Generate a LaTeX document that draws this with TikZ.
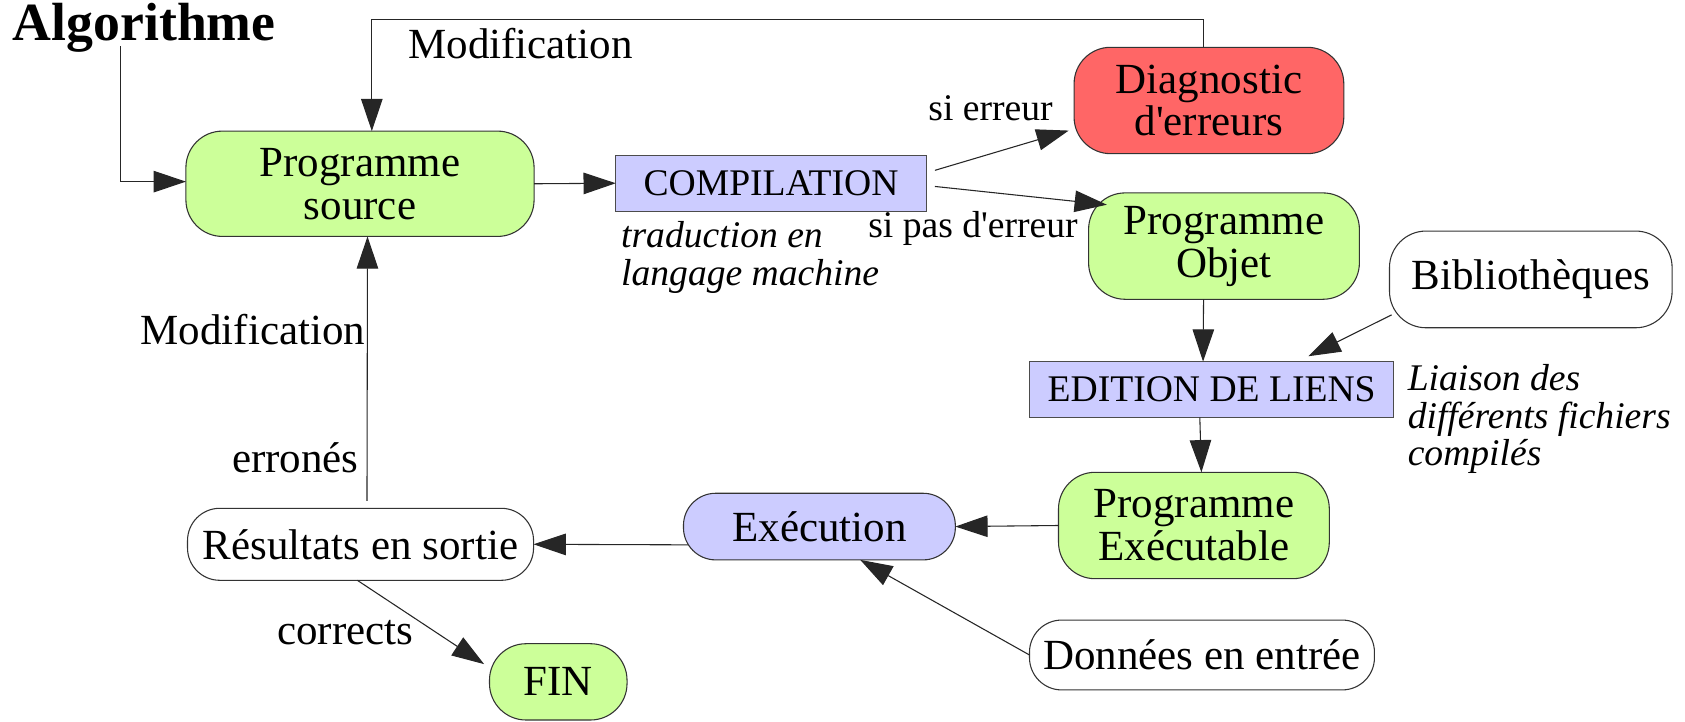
\documentclass[tikz,border=0pt]{standalone}
\usepackage{fontspec}
\setmainfont{Liberation Serif}
\usetikzlibrary{arrows.meta,calc}

\definecolor{lgreen}{HTML}{CCFF99}
\definecolor{lred}{HTML}{FF6666}
\definecolor{lblue}{HTML}{CCCCFF}

\begin{document}
\begin{tikzpicture}[x=0.5pt,y=-0.5pt,
  every node/.style={inner sep=0pt, outer sep=0pt},
  sz/.style 2 args={minimum width=#1*0.5pt, minimum height=#2*0.5pt},
  big/.style={font=\fontsize{20}{20}\selectfont},
  small/.style={font=\fontsize{17.5}{17.5}\selectfont},
  box/.style={draw=black!80, line width=0.5pt, rounded corners=17pt, align=center, big},
  pill/.style={box, rounded corners=15pt},
  rect/.style={draw=black!70, line width=0.5pt, fill=lblue, align=center, small},
  lbl/.style={anchor=base west, big},
  slbl/.style={anchor=base west, small},
  note/.style={anchor=north west, align=left, font=\itshape\fontsize{17.5}{17.5}\selectfont},
  arr/.style={draw=black!85, line width=0.5pt, -{Triangle[length=15pt,width=10pt]}}
]
\useasboundingbox (0,0) rectangle (1568,671);

% boxes of the chain
\node[box, fill=lgreen, sz={324}{98}] (src) at (335,171) {Programme\\source};
\node[rect, sz={289}{52}] (comp) at (717.5,170.5) {COMPILATION};
\node[box, fill=lred, sz={251}{99}] (diag) at (1125,93.5) {Diagnostic\\d\textquotesingle erreurs};
\node[box, fill=lgreen, sz={252}{99}] (obj) at (1139,229) {Programme\\Objet};
\node[box, fill=white, sz={263}{90}] (bib) at (1424.5,260) {Biblioth\`eques};
\node[rect, sz={339}{52}] (edit) at (1127.5,362.5) {EDITION DE LIENS};
\node[box, fill=lgreen, sz={252}{99}] (exe) at (1111,489) {Programme\\Ex\'ecutable};
\node[pill, fill=lblue, sz={253}{62}] (run) at (762.5,490) {Ex\'ecution};
\node[pill, fill=white, sz={322}{67}] (res) at (335.5,506.5) {R\'esultats en sortie};
\node[box, fill=lgreen, sz={128}{71}] (fin) at (519.5,634.5) {FIN};
\node[pill, fill=white, sz={321}{65}] (data) at (1118.5,609.5) {Donn\'ees en entr\'ee};

% title and labels
\node[anchor=base west, font=\bfseries\fontsize{25}{25}\selectfont] (alg) at (12,38) {Algorithme};
\node[lbl] (mod1) at (380,54) {Modification};
\node[slbl] (err) at (864,112) {si erreur};
\node[slbl] (noerr) at (808,221) {si pas d\textquotesingle erreur};
\node[lbl] (mod2) at (131,321) {Modification};
\node[lbl] (bad) at (216,440) {erron\'es};
\node[lbl] (good) at (258,600) {corrects};
\node[note] (trad) at (578,206) {traduction en\\langage machine};
\node[note] (liai) at (1310,339) {Liaison des\\diff\'erents fichiers\\compil\'es};

% connectors
\coordinate (ytop) at (0,18);
\coordinate (a0) at ($(alg.base west)+(100,5)$);
\coordinate (d1) at ($(diag.north)+(-5,0)$);
\coordinate (s1) at ($(src.north)+(11,0)$);
\draw[arr] (a0) |- ($(src.west)+(0,-2)$);
\draw[arr] (d1) -- (d1 |- ytop) -| (s1);
\draw[arr] (src.east) -- (comp.west);
\draw[arr] ($(comp.east)+(8,-12)$) -- ($(diag.west)+(-5,28)$);
\draw[arr] ($(comp.east)+(8,3)$) -- ($(obj.north west)+(17,11)$);
\draw[arr] ($(obj.south)+(-19,0)$) -- ($(edit.north)+(-8,0)$);
\draw[arr] ($(bib.south west)+(2,-12)$) -- ($(edit.north)+(90,-5)$);
\draw[arr] ($(edit.south)+(-11,0)$) -- ($(exe.north)+(7,0)$);
\draw[arr] (exe.west) -- (run.east);
\draw[arr] (data.west) -- ($(run.south)+(38,0)$);
\draw[arr] ($(run.west)+(4,17)$) -- (res.east);
\draw[arr] ($(res.north)+(6,-7)$) -- ($(src.south)+(7,0)$);
\draw[arr] ($(res.south)+(-3,0)$) -- ($(fin.north west)+(-5,19)$);
\end{tikzpicture}
\end{document}
